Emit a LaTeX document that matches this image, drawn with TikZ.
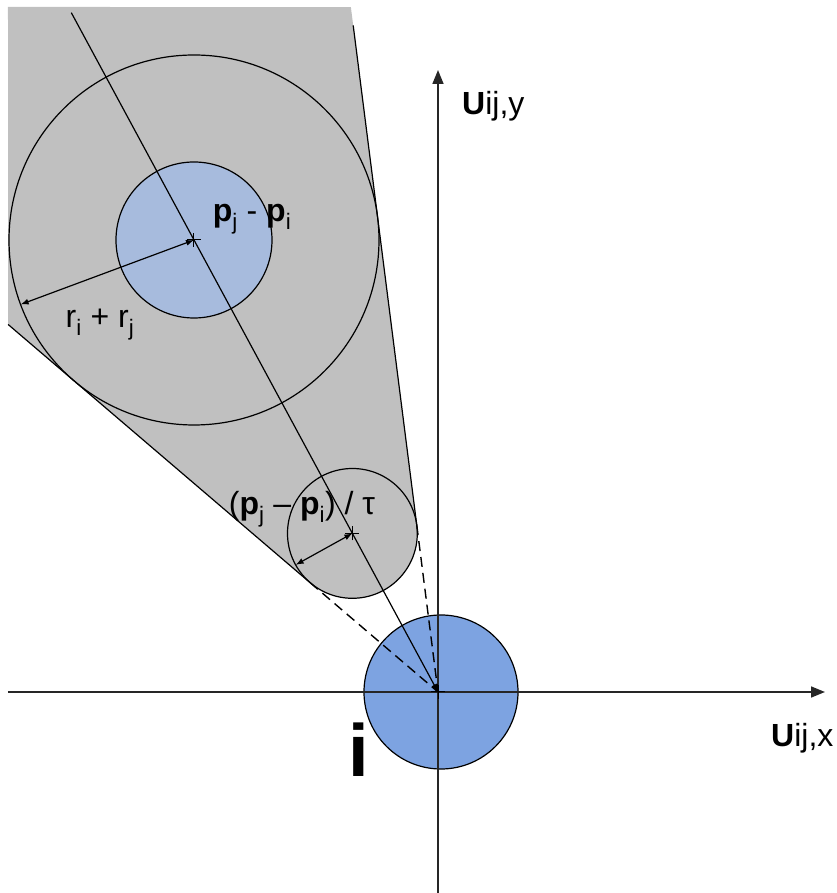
\documentclass[tikz,border=0pt]{standalone}
\usepackage{fontspec}
\setmainfont{Liberation Sans}
\definecolor{vogray}{HTML}{C0C0C0}
\definecolor{agentblue}{HTML}{7DA3E1}
\definecolor{nbrblue}{HTML}{A7BBDD}
\usetikzlibrary{arrows.meta,calc}

\begin{document}
\begin{tikzpicture}[x=1pt,y=1pt,
  edge/.style={line width=1.2pt,black},
  axis/.style={line width=1.6pt,black!85,-{Triangle[length=14pt,width=11pt]}},
  dashline/.style={edge,line width=1.4pt,dash pattern=on 10pt off 6pt},
  radius/.style={edge,{Latex[length=8pt,width=6pt]}-{Latex[length=8pt,width=6pt]}},
  cross/.style={line width=1pt,black},
  lab/.style={font=\fontsize{32}{38}\selectfont,inner sep=0pt,anchor=base}]
  \useasboundingbox (-438,-201) rectangle (398,692);
  % geometry of the cone
  \coordinate (O) at (0,0);
  \coordinate (C) at (-244,452);
  \coordinate (S) at (-85.6,158.6);
  \coordinate (T1) at (97.25:168.1);
  \coordinate (T2) at (139.47:168.1);
  \coordinate (Rfill) at (97.25:690.5);
  \coordinate (Rtop) at (97.25:672);
  \coordinate (Lend) at (139.47:565.6);
  \coordinate (Mtop) at (118.36:772);
  \coordinate (Cr) at ($(C)+(200.4:185)$);
  \coordinate (Sr) at ($(S)+(209:64.9)$);
  % shaded cone
  \fill[vogray] (-430,685) -- (Rfill) -- (T1) -- (S) -- (T2) -- (Lend) -- cycle;
  \fill[vogray] (S) circle (64.9);
  \draw[edge] (C) circle (185);
  \draw[edge,fill=nbrblue] (C) circle (78);
  \draw[edge] (S) circle (64.9);
  \draw[edge,fill=agentblue] (3,0) circle (77);
  % axes
  \draw[axis] (-430,0) -- (387,0);
  \draw[axis] (0,-201) -- (0,622);
  % cone edges and centre line
  \draw[edge] (Rtop) -- (T1);
  \draw[edge] (Lend) -- (T2);
  \draw[dashline] (T1) -- (O);
  \draw[dashline] (T2) -- (O);
  \draw[edge,-{Latex[length=8pt,width=6pt]}] (Mtop) -- (O);
  \draw[radius] (C) -- (Cr);
  \draw[radius] (S) -- (Sr);
  \foreach \p in {O,S,C}
    \draw[cross] ($(\p)+(-7,0)$) -- ($(\p)+(7,0)$) ($(\p)+(0,-7)$) -- ($(\p)+(0,7)$);
  % labels
  \node[lab] (pdiff) at (-186,470) {\textbf{p}\textsubscript{j} - \textbf{p}\textsubscript{i}};
  \node[lab] (rsum) at (-338,364) {r\textsubscript{i} + r\textsubscript{j}};
  \node[lab] (ptau) at (-136,177) {(\textbf{p}\textsubscript{j} – \textbf{p}\textsubscript{i}) / τ};
  \node[lab,anchor=base west] (uy) at (24,577) {\textbf{U}ij,y};
  \node[lab,anchor=base west] (ux) at (333,-54) {\textbf{U}ij,x};
  \node[lab,font=\fontsize{74}{82}\selectfont\bfseries] (agent) at (-79,-84) {i};
\end{tikzpicture}
\end{document}
